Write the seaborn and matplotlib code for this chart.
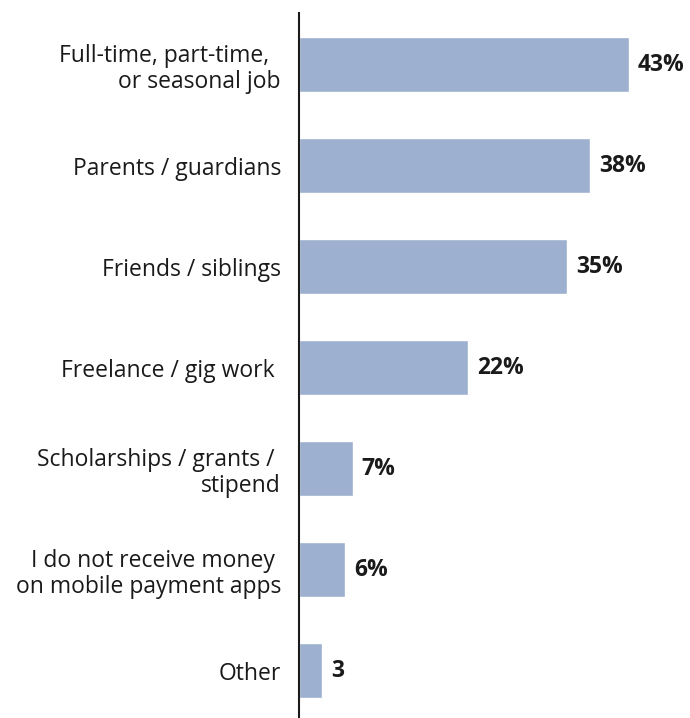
import matplotlib
matplotlib.use("Agg")
import matplotlib.pyplot as plt
import seaborn as sns
import pandas as pd

categories = [
    "Full-time, part-time,  \nor seasonal job",
    "Parents / guardians",
    "Friends / siblings",
    "Freelance / gig work ",
    "Scholarships / grants / \nstipend",
    "I do not receive money \non mobile payment apps",
    "Other",
]
values = [43, 38, 35, 22, 7, 6, 3]
value_labels = ["43%", "38%", "35%", "22%", "7%", "6%", "3"]

sns.set_theme(style="white")
plt.rcParams["font.family"] = ["Open Sans", "DejaVu Sans"]

df = pd.DataFrame({"source": categories, "share": values})

fig = plt.figure(figsize=(6.9, 7.18), dpi=100)
ax = fig.add_axes([299 / 690, 0, 391 / 690, 705 / 718])

sns.barplot(data=df, x="share", y="source", orient="h", color="#9DB0CF",
            saturation=1, width=0.545, ax=ax)

ax.set_xlim(0, 51)
ax.set_ylim(6.47, -0.51)
ax.set_xlabel("")
ax.set_ylabel("")
ax.set_xticks([])

for i, (v, lab) in enumerate(zip(values, value_labels)):
    ax.annotate(lab, (v, i), xytext=(6.5, 0), textcoords="offset points",
                ha="left", va="center", fontsize=16.5, fontweight="bold",
                color="#1a1a1a")

for s in ["top", "right", "bottom"]:
    ax.spines[s].set_visible(False)
ax.spines["left"].set_color("#1a1a1a")
ax.spines["left"].set_linewidth(1.5)

ax.tick_params(axis="y", length=0, pad=13, labelsize=16.5, labelcolor="#1a1a1a")
for t in ax.get_yticklabels():
    t.set_horizontalalignment("right")
    t.set_multialignment("right")
    t.set_linespacing(1.12)

fig.savefig("out.png", dpi=100)
